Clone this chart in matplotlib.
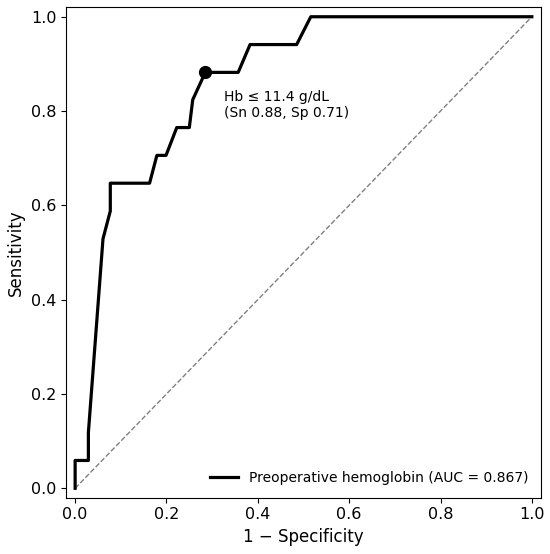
import matplotlib
matplotlib.use("Agg")
import matplotlib.pyplot as plt

# ROC curve points
fpr = [0.0, 0.0, 0.029, 0.029, 0.061, 0.077, 0.077, 0.163, 0.179, 0.199,
       0.2225, 0.250, 0.2575, 0.285, 0.357, 0.383, 0.485, 0.516, 1.0]
tpr = [0.0, 0.059, 0.059, 0.118, 0.529, 0.588, 0.647, 0.647, 0.706, 0.706,
       0.765, 0.765, 0.824, 0.882, 0.882, 0.941, 0.941, 1.0, 1.0]
auc_value = 0.867
cut_fpr = 0.285
cut_tpr = 0.882
cut_label = "Hb \u2264 11.4 g/dL\n(Sn 0.88, Sp 0.71)"
series_label = f"Preoperative hemoglobin (AUC = {auc_value:.3f})"
ticks = [0.0, 0.2, 0.4, 0.6, 0.8, 1.0]

fig = plt.figure(figsize=(5.5, 5.54), dpi=100)
ax = fig.add_axes([0.12, 0.1016, 0.8636, 0.8852])

ax.plot([0, 1], [0, 1], linestyle="--", color="#808080", linewidth=1.0)
ax.plot(fpr, tpr, color="black", linewidth=2.3, label=series_label)
ax.plot([cut_fpr], [cut_tpr], marker="o", color="black", markersize=8.5)
ax.annotate(cut_label, xy=(cut_fpr, cut_tpr), xytext=(0.327, 0.845),
            textcoords="data", ha="left", va="top", fontsize=10)

ax.set_xlim(-0.02, 1.02)
ax.set_ylim(-0.02, 1.02)
ax.set_xticks(ticks)
ax.set_yticks(ticks)
ax.set_xticklabels([f"{t:.1f}" for t in ticks])
ax.set_yticklabels([f"{t:.1f}" for t in ticks])
ax.tick_params(labelsize=11.5)
ax.set_xlabel("1 \u2212 Specificity", fontsize=12)
ax.set_ylabel("Sensitivity", fontsize=12)
ax.legend(loc="lower right", frameon=False, fontsize=10)

fig.savefig("out.png", dpi=100)
